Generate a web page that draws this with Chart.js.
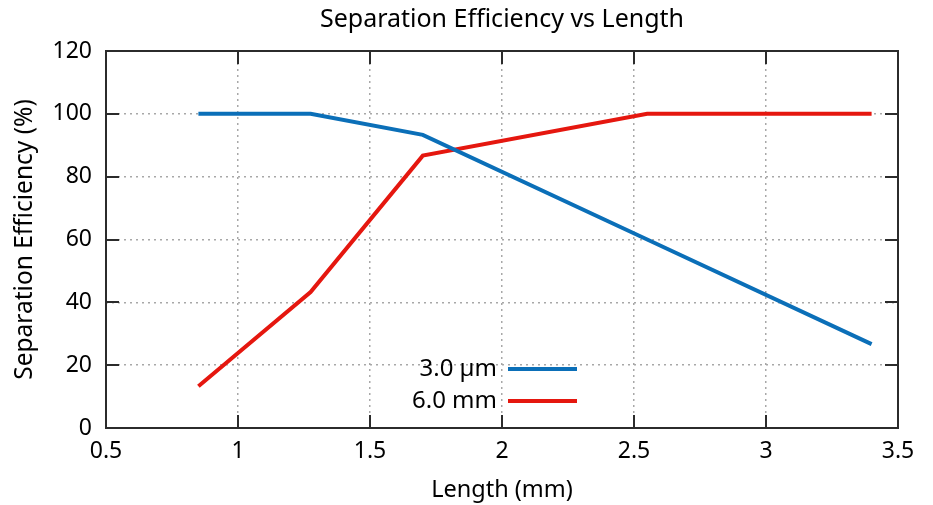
<!DOCTYPE html>
<html>
<head>
<meta charset="utf-8">
<script src="https://cdn.jsdelivr.net/npm/chart.js@4"></script>
<style>
    html, body { margin: 0; padding: 0; background: #fff; }
    #wrap { width: 933px; height: 505px; }
</style>
</head>
<body>
<div id="wrap"><canvas id="effChart" width="933" height="505"></canvas></div>
<script>
// Data
const lengths = [0.85, 1.275, 1.7, 2.55, 3.4];
const eff3um = [100, 100, 93.3, 60, 26.7];
const eff6mm = [13.3, 43.3, 86.7, 100, 100];
const seriesLabels = ['3.0 µm', '6.0 mm'];
const seriesColors = ['#0b6fb8', '#e5170f'];
const xTicks = [0.5, 1, 1.5, 2, 2.5, 3, 3.5];
const yTicks = [0, 20, 40, 60, 80, 100, 120];

const FONT = '"Noto Sans"';

function toPoints(xs, ys) {
    return xs.map((x, i) => ({ x: x, y: ys[i] }));
}

// Frame with inward ticks on all four sides (gnuplot look)
const framePlugin = {
    id: 'frame',
    afterDatasetsDraw(chart) {
        const { ctx, chartArea: a, scales } = chart;
        const len = 13;
        ctx.save();
        ctx.strokeStyle = '#2b2b2b';
        ctx.lineWidth = 2;
        ctx.beginPath();
        xTicks.forEach(v => {
            const px = Math.round(scales.x.getPixelForValue(v));
            ctx.moveTo(px, a.bottom); ctx.lineTo(px, a.bottom - len);
            ctx.moveTo(px, a.top); ctx.lineTo(px, a.top + len);
        });
        yTicks.forEach(v => {
            const py = Math.round(scales.y.getPixelForValue(v));
            ctx.moveTo(a.left, py); ctx.lineTo(a.left + len, py);
            ctx.moveTo(a.right, py); ctx.lineTo(a.right - len, py);
        });
        ctx.stroke();
        ctx.strokeRect(a.left, a.top, a.right - a.left, a.bottom - a.top);
        ctx.restore();
    }
};

// Legend inside the plot, text right-aligned before a line sample
const keyPlugin = {
    id: 'key',
    afterDatasetsDraw(chart) {
        const { ctx, chartArea: a } = chart;
        const textRight = a.left + 391;
        const lineStart = a.left + 402;
        const lineEnd = a.left + 471;
        const rowY = [a.top + 318, a.top + 350];
        ctx.save();
        ctx.font = '24px ' + FONT;
        ctx.textAlign = 'right';
        ctx.textBaseline = 'middle';
        chart.data.datasets.forEach((ds, i) => {
            ctx.fillStyle = '#000';
            ctx.fillText(ds.label, textRight, rowY[i]);
            ctx.strokeStyle = ds.borderColor;
            ctx.lineWidth = 4;
            ctx.beginPath();
            ctx.moveTo(lineStart, rowY[i]);
            ctx.lineTo(lineEnd, rowY[i]);
            ctx.stroke();
        });
        ctx.restore();
    }
};

document.addEventListener('DOMContentLoaded', function() {
    const ctx = document.getElementById('effChart');

    new Chart(ctx, {
        type: 'line',
        data: {
            datasets: [
                {
                    label: seriesLabels[0],
                    data: toPoints(lengths, eff3um),
                    borderColor: seriesColors[0],
                    borderWidth: 4,
                    pointRadius: 0,
                    tension: 0,
                    fill: false
                },
                {
                    label: seriesLabels[1],
                    data: toPoints(lengths, eff6mm),
                    borderColor: seriesColors[1],
                    borderWidth: 4,
                    pointRadius: 0,
                    tension: 0,
                    fill: false
                }
            ]
        },
        options: {
            responsive: false,
            animation: false,
            layout: { padding: { left: 0, right: 35, top: 0, bottom: 0 } },
            plugins: {
                legend: { display: false },
                tooltip: { enabled: false },
                title: {
                    display: true,
                    fullSize: false,
                    text: 'Separation Efficiency vs Length',
                    color: '#000',
                    font: { size: 25, family: FONT, weight: 'normal', lineHeight: 1.2 },
                    padding: { top: 5, bottom: 16 }
                }
            },
            scales: {
                x: {
                    type: 'linear',
                    min: 0.5,
                    max: 3.5,
                    afterBuildTicks: scale => { scale.ticks = xTicks.map(v => ({ value: v })); },
                    afterFit: scale => { scale.height = 77; },
                    grid: {
                        color: '#a8a8a8',
                        lineWidth: 1.5,
                        drawTicks: false
                    },
                    border: { display: false, dash: [2, 4] },
                    ticks: {
                        color: '#000',
                        padding: 10,
                        font: { size: 23, family: FONT },
                        callback: v => String(v)
                    },
                    title: {
                        display: true,
                        text: 'Length (mm)',
                        color: '#000',
                        font: { size: 23.5, family: FONT },
                        padding: { top: 0, bottom: 1 }
                    }
                },
                y: {
                    type: 'linear',
                    min: 0,
                    max: 120,
                    afterBuildTicks: scale => { scale.ticks = yTicks.map(v => ({ value: v })); },
                    afterFit: scale => { scale.width = 106; },
                    grid: {
                        color: '#a8a8a8',
                        lineWidth: 1.5,
                        drawTicks: false
                    },
                    border: { display: false, dash: [2, 4] },
                    ticks: {
                        color: '#000',
                        padding: 14,
                        font: { size: 23, family: FONT },
                        callback: v => String(v)
                    },
                    title: {
                        display: true,
                        text: 'Separation Efficiency (%)',
                        color: '#000',
                        font: { size: 24.5, family: FONT },
                        padding: { top: 10, bottom: 0 }
                    }
                }
            }
        },
        plugins: [framePlugin, keyPlugin]
    });
});
</script>
</body>
</html>
